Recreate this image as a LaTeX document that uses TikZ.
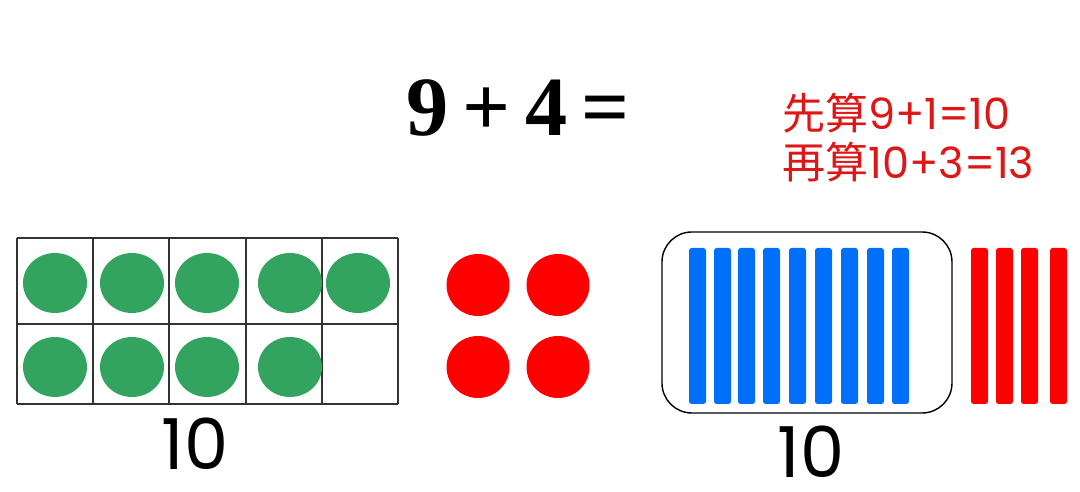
\documentclass[tikz,border=0pt]{standalone}
\usepackage{fontspec}
\setmainfont{Liberation Serif}
\newfontfamily\cjk{Noto Sans CJK SC}
\newfontfamily\geo{Poppins}
\usepackage{xcolor}
\definecolor{dotgreen}{RGB}{51,163,96}
\definecolor{barblue}{RGB}{0,112,250}
\definecolor{hintred}{RGB}{222,22,22}
\usetikzlibrary{positioning}

\begin{document}
\begin{tikzpicture}[x=0.02cm, y=-0.02cm,
      cell/.style={draw=black!80, line width=0.6pt},
      gdot/.style={fill=dotgreen},
      rdot/.style={fill=red},
      bbar/.style={fill=barblue, rounded corners=1.5pt},
      rbar/.style={fill=red, rounded corners=1.5pt},
      tenbox/.style={draw, line width=0.8pt, rounded corners=17pt,
                     minimum width=290*0.02cm, minimum height=181*0.02cm},
      count/.style={font=\geo\fontsize{40}{40}\selectfont, inner sep=0pt,
                    text height=28pt, text depth=0pt, anchor=base},
      eq/.style={font=\bfseries\fontsize{48}{48}\selectfont, inner sep=0pt},
      hint/.style={font=\fontsize{24.5}{28}\selectfont, text=hintred,
                   inner sep=0pt, anchor=west}
  ]
    \useasboundingbox (0,0) rectangle (1080,492);

    % equation and hint
    \node[eq] (eq) at (518,108) {\spaceskip=0.17em 9 + 4 =};
    \node[hint] (hint1) at (782,113) {{\cjk 先算}{\geo 9+1=10}};
    \node[hint] (hint2) at ([yshift=-0.98cm]hint1.west) {{\cjk 再算}{\geo 10+3=13}};

    % ten frame
    \foreach \x in {17,93,169,246,322,398}
      \draw[cell] (\x,238) -- (\x,404);
    \foreach \y in {238,324,404}
      \draw[cell] (17,\y) -- (398,\y);
    \foreach \x in {55,132,207,290,358}
      \fill[gdot] (\x,283) ellipse [x radius=32, y radius=30];
    \foreach \x in {55,132,207,290}
      \fill[gdot] (\x,367) ellipse [x radius=32, y radius=30];
    \node[count] (ten1) at (195,470) {10};

    % four red dots
    \foreach \x in {478,558}
      \foreach \y in {285,367}
        \fill[rdot] (\x,\y) ellipse [x radius=31.5, y radius=31];

    % bundle of ten and four sticks
    \node[tenbox] (bundle) at (807,322.5) {};
    \foreach \x in {689,714,738,763,789,815,841,867,892}
      \fill[bbar] (\x,248) rectangle ++(17,156);
    \foreach \x in {971,996,1021,1050}
      \fill[rbar] (\x,248) rectangle ++(17,156);
    \node[count] (ten2) at (811,478) {10};
\end{tikzpicture}
\end{document}
